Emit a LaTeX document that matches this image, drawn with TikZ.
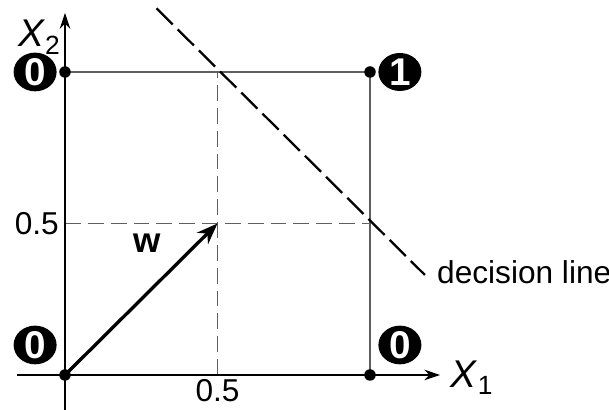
\documentclass[tikz,border=0pt]{standalone}
\usepackage{fontspec}
\setmainfont{Liberation Sans}
\usetikzlibrary{positioning,arrows.meta,shapes.geometric,calc}
\definecolor{gridgray}{RGB}{95,95,95}

\tikzset{
  corner/.style={circle, fill=black, inner sep=0pt, minimum size=0.23cm},
  output/.style={ellipse, fill=black, text=white, inner sep=0pt, minimum width=0.86cm, minimum height=0.76cm, font=\fontsize{22}{22}\selectfont\bfseries},
  axis/.style={-{Stealth[length=9pt,width=6pt]}, line width=1.2pt},
}

\begin{document}
\begin{tikzpicture}[x=6.1cm, y=6.06cm, every node/.style={font=\fontsize{18}{21}\selectfont}]
  \useasboundingbox (-0.2131,-0.1155) rectangle (1.7836,1.2376);
  % corners of the unit square
  \coordinate (o) at (0,0);
  \coordinate (a) at (1,0);
  \coordinate (b) at (0,1);
  \coordinate (c) at (1,1);
  \coordinate (m) at (0.5,0.5);
  \coordinate (xs) at (-0.157,0);
  \coordinate (xe) at (1.23,0);
  \coordinate (ys) at (0,-0.13);
  \coordinate (ye) at (0,1.195);
  \coordinate (hl) at (0,0.5);
  \coordinate (hr) at (1,0.5);
  \coordinate (vb) at (0.5,0);
  \coordinate (vt) at (0.5,1);
  \coordinate (ds) at (0.30,1.21);
  \coordinate (de) at (1.18,0.33);

  % square and guide lines
  \draw[gridgray, line width=0.8pt] (b) -- (c) -- (a);
  \draw[gridgray, line width=0.9pt, dash pattern=on 9pt off 4pt] (hl) -- (hr);
  \draw[gridgray, line width=0.9pt, dash pattern=on 9pt off 4pt] (vb) -- (vt);

  % axes
  \draw[axis] (xs) -- (xe);
  \draw[axis] (ys) -- (ye);
  \node[anchor=west] at (1.245,-0.01) (x1) {\fontsize{22}{22}\selectfont\textit{X}\raisebox{-0.35ex}{\fontsize{15}{15}\selectfont 1}};
  \node at (-0.085,1.115) (x2) {\fontsize{22}{22}\selectfont\textit{X}\raisebox{-0.35ex}{\fontsize{15}{15}\selectfont 2}};
  \node[left=0pt of hl] (h05) {0.5};
  \node[below=-1pt of vb] (v05) {0.5};

  % decision line
  \draw[line width=1.3pt, dash pattern=on 13pt off 4pt] (ds) -- (de);
  \node[anchor=west] at (1.2,0.338) (dl) {decision line};

  % weight vector
  \draw[-{Stealth[length=12pt,width=9pt]}, line width=1.9pt] (o) -- (m);
  \node at (0.269,0.436) (w) {\fontsize{20}{20}\selectfont\textbf{w}};

  % corner points and outputs
  \foreach \p in {o,a,b,c} \node[corner] at (\p) {};
  \node[output] at (-0.098,1) (oa) {0};
  \node[output] at (1.098,1) (ob) {1};
  \node[output] at (-0.098,0.099) (oc) {0};
  \node[output] at (1.098,0.099) (od) {0};
\end{tikzpicture}
\end{document}
